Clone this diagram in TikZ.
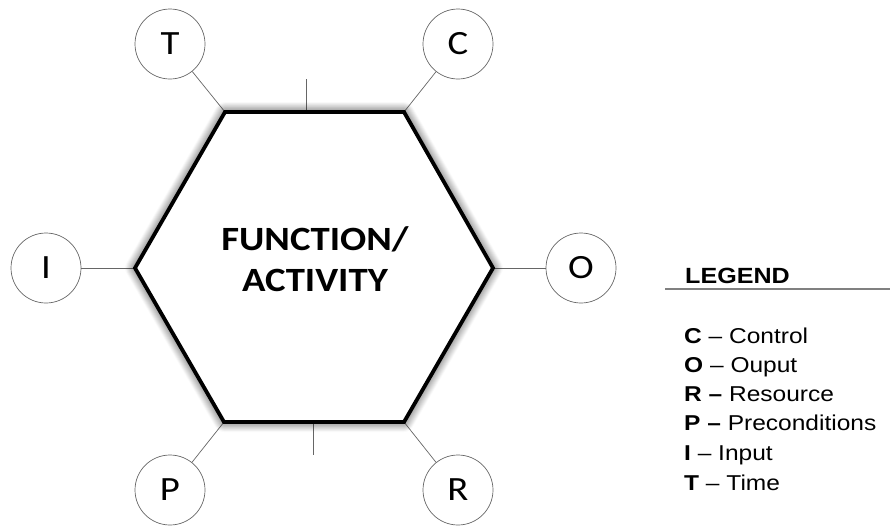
\documentclass[tikz,border=0pt]{standalone}
\usepackage{fontspec}
\setmainfont{Carlito}
\newfontfamily\arialfont{Liberation Sans}
\usetikzlibrary{shadows.blur}
% lettering is set slightly wide
\newcommand{\widetext}[1]{\scalebox{1.14}[1]{#1}}
\begin{document}
\begin{tikzpicture}[x=1pt,y=-1pt,
  port/.style={circle,draw=black!60,line width=0.7pt,minimum size=70pt,inner sep=0pt,
    font=\fontsize{34}{34}\selectfont},
  link/.style={draw=black!60,line width=0.7pt},
  hexa/.style={draw=black,line width=3.8pt,line join=miter,fill=white,
    blur shadow={shadow xshift=0pt,shadow yshift=0pt,shadow blur radius=10pt,shadow opacity=85,shadow blur steps=12}},
  legtext/.style={anchor=base west,inner sep=0pt,font=\arialfont\fontsize{21.5}{21.5}\selectfont}]
\useasboundingbox (0,0) rectangle (890,525);

% hexagon corners
\coordinate (h1) at (225,112);
\coordinate (h2) at (404,112);
\coordinate (h3) at (493,268);
\coordinate (h4) at (404,422);
\coordinate (h5) at (224,422);
\coordinate (h6) at (135,268);

% port circles
\node[port] (T) at (170,44) {\widetext{T}};
\node[port] (C) at (458,44) {\widetext{C}};
\node[port] (I) at (46,268) {\widetext{I}};
\node[port] (O) at (581,268) {\widetext{O}};
\node[port] (P) at (170,490) {\widetext{P}};
\node[port] (R) at (458,490) {\widetext{R}};

% connectors from corners to ports
\draw[link] (h1) -- (T);
\draw[link] (h2) -- (C);
\draw[link] (h6) -- (I);
\draw[link] (h3) -- (O);
\draw[link] (h5) -- (P);
\draw[link] (h4) -- (R);

% short ticks on top and bottom edges
\coordinate (tt) at (306,79);
\coordinate (tb) at (306,112);
\coordinate (bt) at (313,422);
\coordinate (bb) at (313,455);
\draw[link] (tt) -- (tb);
\draw[link] (bt) -- (bb);

% the activity hexagon
\path[hexa] (h1) -- (h2) -- (h3) -- (h4) -- (h5) -- (h6) -- cycle;
\node[align=center,font=\bfseries\fontsize{34}{41}\selectfont] (fa) at (315,259)
  {\widetext{FUNCTION/}\\\widetext{ACTIVITY}};

% legend
\node[anchor=base west,inner sep=0pt,font=\arialfont\bfseries\fontsize{22}{22}\selectfont] (lg) at (685,283) {\widetext{LEGEND}};
\coordinate (l1) at (665,289);
\coordinate (l2) at (890,289);
\draw[draw=black!50,line width=1.3pt] (l1) -- (l2);
\node[legtext] (lc) at (684,343) {\widetext{\textbf{C} – Control}};
\node[legtext] (lo) at (684,372) {\widetext{\textbf{O} – Ouput}};
\node[legtext] (lr) at (684,401) {\widetext{\textbf{R –} Resource}};
\node[legtext] (lp) at (684,430) {\widetext{\textbf{P –} Preconditions}};
\node[legtext] (li) at (684,460) {\widetext{\textbf{I} – Input}};
\node[legtext] (lt) at (684,490) {\widetext{\textbf{T} – Time}};
\end{tikzpicture}
\end{document}
